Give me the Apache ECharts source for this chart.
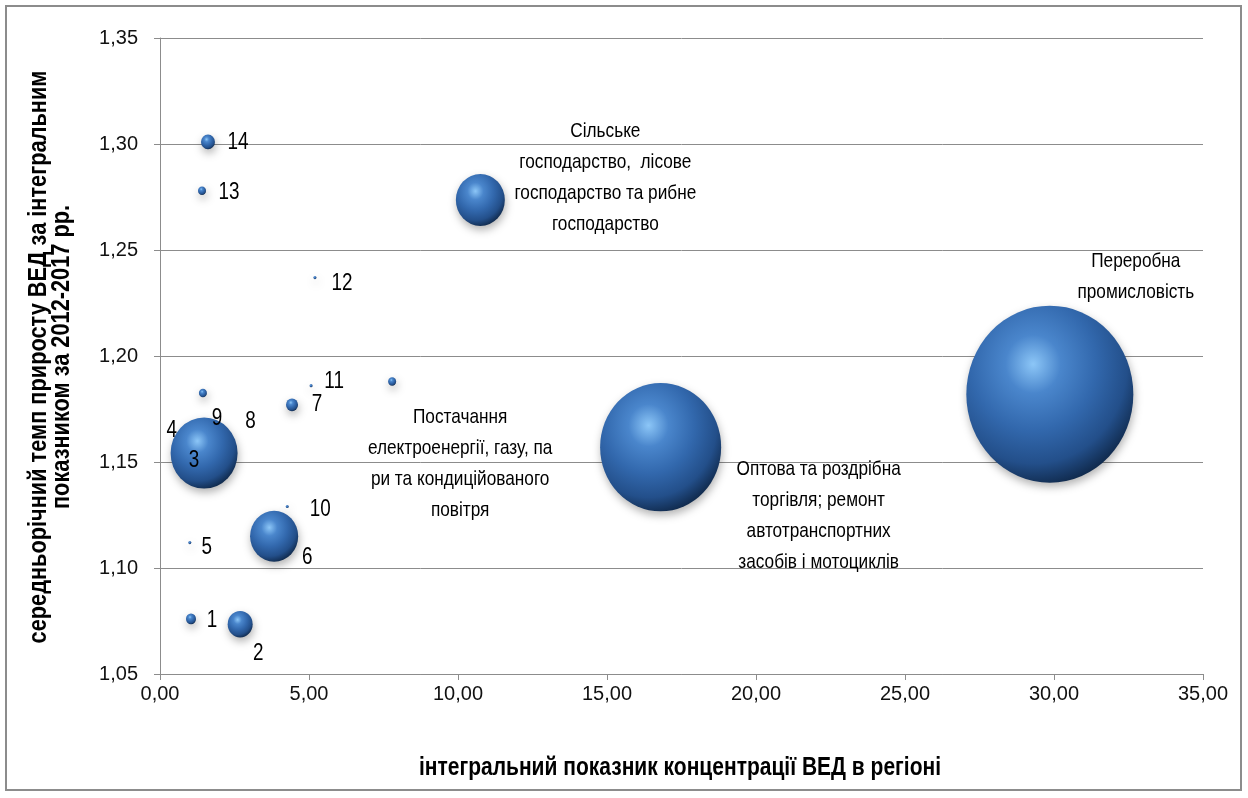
<!DOCTYPE html>
<html>
<head>
<meta charset="utf-8">
<script src="https://cdn.jsdelivr.net/npm/echarts@6/dist/echarts.min.js"></script>
<style>
html,body{margin:0;padding:0;background:#fff;}
#c{width:1248px;height:798px;}
</style>
</head>
<body>
<div id="c"></div>
<script>
// ---- data ----
const pointLabels = ['1','2','4','8','3','5','6','7','9','10','11','12','13','14',
  'Сільське\nгосподарство,  лісове\nгосподарство та рибне\nгосподарство',
  'Постачання\nелектроенергії, газу, па\nри та кондиційованого\nповітря',
  'Оптова та роздрібна\nторгівля; ремонт\nавтотранспортних\nзасобів і мотоциклів',
  'Переробна\nпромисловість'];
const xValues = [1.04, 2.69, 1.20, 2.20, 1.48, 1.00, 3.83, 4.43, 1.44, 4.27, 5.07, 5.20, 1.41, 1.61, 10.75, 7.79, 16.80, 29.86];
const yValues = [1.076, 1.0735, 1.157, 1.160, 1.1542, 1.112, 1.115, 1.177, 1.1825, 1.129, 1.186, 1.237, 1.278, 1.301, 1.2736, 1.188, 1.157, 1.182];
const bubbleSizes = [0.36, 2.24, 0.03, 0.03, 16.1, 0.03, 8.3, 0.52, 0.23, 0.03, 0.03, 0.03, 0.23, 0.70, 8.6, 0.23, 52.5, 100];
const xTicks = {min: 0, max: 35, interval: 5};
const yTicks = {min: 1.05, max: 1.35, interval: 0.05};

// ---- layout (label offsets in px, relative to bubble centre) ----
const labelOffsets = [[21,2],[18,29],[-24,-17],[25,-19],[-10,8],[17,5],[33,21],[25,0],[14,26],[33,3],[23,-4],[27,6],[27,2],[30,1],
  [125,-22],[68,82],[158,69],[86,-117]];

const FONT = '"Liberation Sans", Arial, sans-serif';
const sizeK = 16.7;
const TEXT_SCALE_X = 0.82;

const bubbleColor = {
  type: 'radial', x: 0.4, y: 0.33, r: 0.75,
  colorStops: [
    {offset: 0, color: '#8cc6f7'},
    {offset: 0.22, color: '#4a86cc'},
    {offset: 0.5, color: '#3268ad'},
    {offset: 0.75, color: '#234f8a'},
    {offset: 0.92, color: '#112c50'},
    {offset: 1, color: '#0a1e38'}
  ]
};

const scatterData = xValues.map((x, i) => {
  const d = Math.max(3, sizeK * Math.sqrt(bubbleSizes[i]));
  return {value: [x, yValues[i], bubbleSizes[i]], name: pointLabels[i], symbolSize: [d, d * 1.06]};
});
const labelData = xValues.map((x, i) => [x, yValues[i], i]);

const chart = echarts.init(document.getElementById('c'), null, {renderer: 'canvas'});
const fmt = (v, n) => v.toFixed(n).replace('.', ',');

chart.setOption({
  animation: false,
  grid: {left: 160, right: 45, top: 38, bottom: 124},
  xAxis: {
    type: 'value', min: xTicks.min, max: xTicks.max, interval: xTicks.interval,
    axisLine: {show: true, lineStyle: {color: '#8c8c8c', width: 1}},
    axisTick: {show: true, length: 6, lineStyle: {color: '#8c8c8c'}},
    splitLine: {show: false},
    axisLabel: {formatter: v => fmt(v, 2), fontFamily: FONT, fontSize: 20, color: '#111', margin: 10}
  },
  yAxis: {
    type: 'value', min: yTicks.min, max: yTicks.max, interval: yTicks.interval,
    axisLine: {show: true, lineStyle: {color: '#8c8c8c', width: 1}},
    axisTick: {show: true, length: 6, lineStyle: {color: '#8c8c8c'}},
    splitLine: {show: true, lineStyle: {color: '#8c8c8c', width: 1}},
    axisLabel: {formatter: v => fmt(v, 2), fontFamily: FONT, fontSize: 20, color: '#111', margin: 22}
  },
  series: [{
    type: 'scatter',
    data: scatterData,
    itemStyle: {
      color: bubbleColor,
      opacity: 1,
      shadowBlur: 8,
      shadowColor: 'rgba(0,0,0,0.3)',
      shadowOffsetX: 1,
      shadowOffsetY: 4
    },
    emphasis: {disabled: true}
  }, {
    type: 'custom',
    data: labelData,
    silent: true,
    z: 5,
    renderItem: function (params, api) {
      const i = api.value(2);
      const p = api.coord([api.value(0), api.value(1)]);
      const off = labelOffsets[i];
      const big = pointLabels[i].length > 3;
      return {
        type: 'text',
        x: p[0] + off[0],
        y: p[1] + off[1],
        scaleX: TEXT_SCALE_X,
        style: {
          text: pointLabels[i],
          font: (big ? '21px ' : '23px ') + FONT,
          lineHeight: 31,
          fill: '#000',
          textAlign: 'center',
          textVerticalAlign: 'middle'
        }
      };
    }
  }],
  graphic: [
    {type: 'rect', shape: {x: 6, y: 6, width: 1235, height: 784}, style: {fill: 'none', stroke: '#8c8c8c', lineWidth: 2}, silent: true},
    {type: 'text', x: 680, y: 768, scaleX: 0.84, style: {text: 'інтегральний показник концентрації ВЕД в регіоні', font: 'bold 25px ' + FONT, fill: '#000', textAlign: 'center', textVerticalAlign: 'middle'}},
    {type: 'text', x: 51, y: 357, rotation: Math.PI / 2, scaleX: 0.87, style: {text: 'середньорічний темп приросту ВЕД за інтегральним\nпоказником за 2012-2017 рр.', font: 'bold 25px ' + FONT, lineHeight: 23, fill: '#000', textAlign: 'center', textVerticalAlign: 'middle'}}
  ]
});
</script>
</body>
</html>
